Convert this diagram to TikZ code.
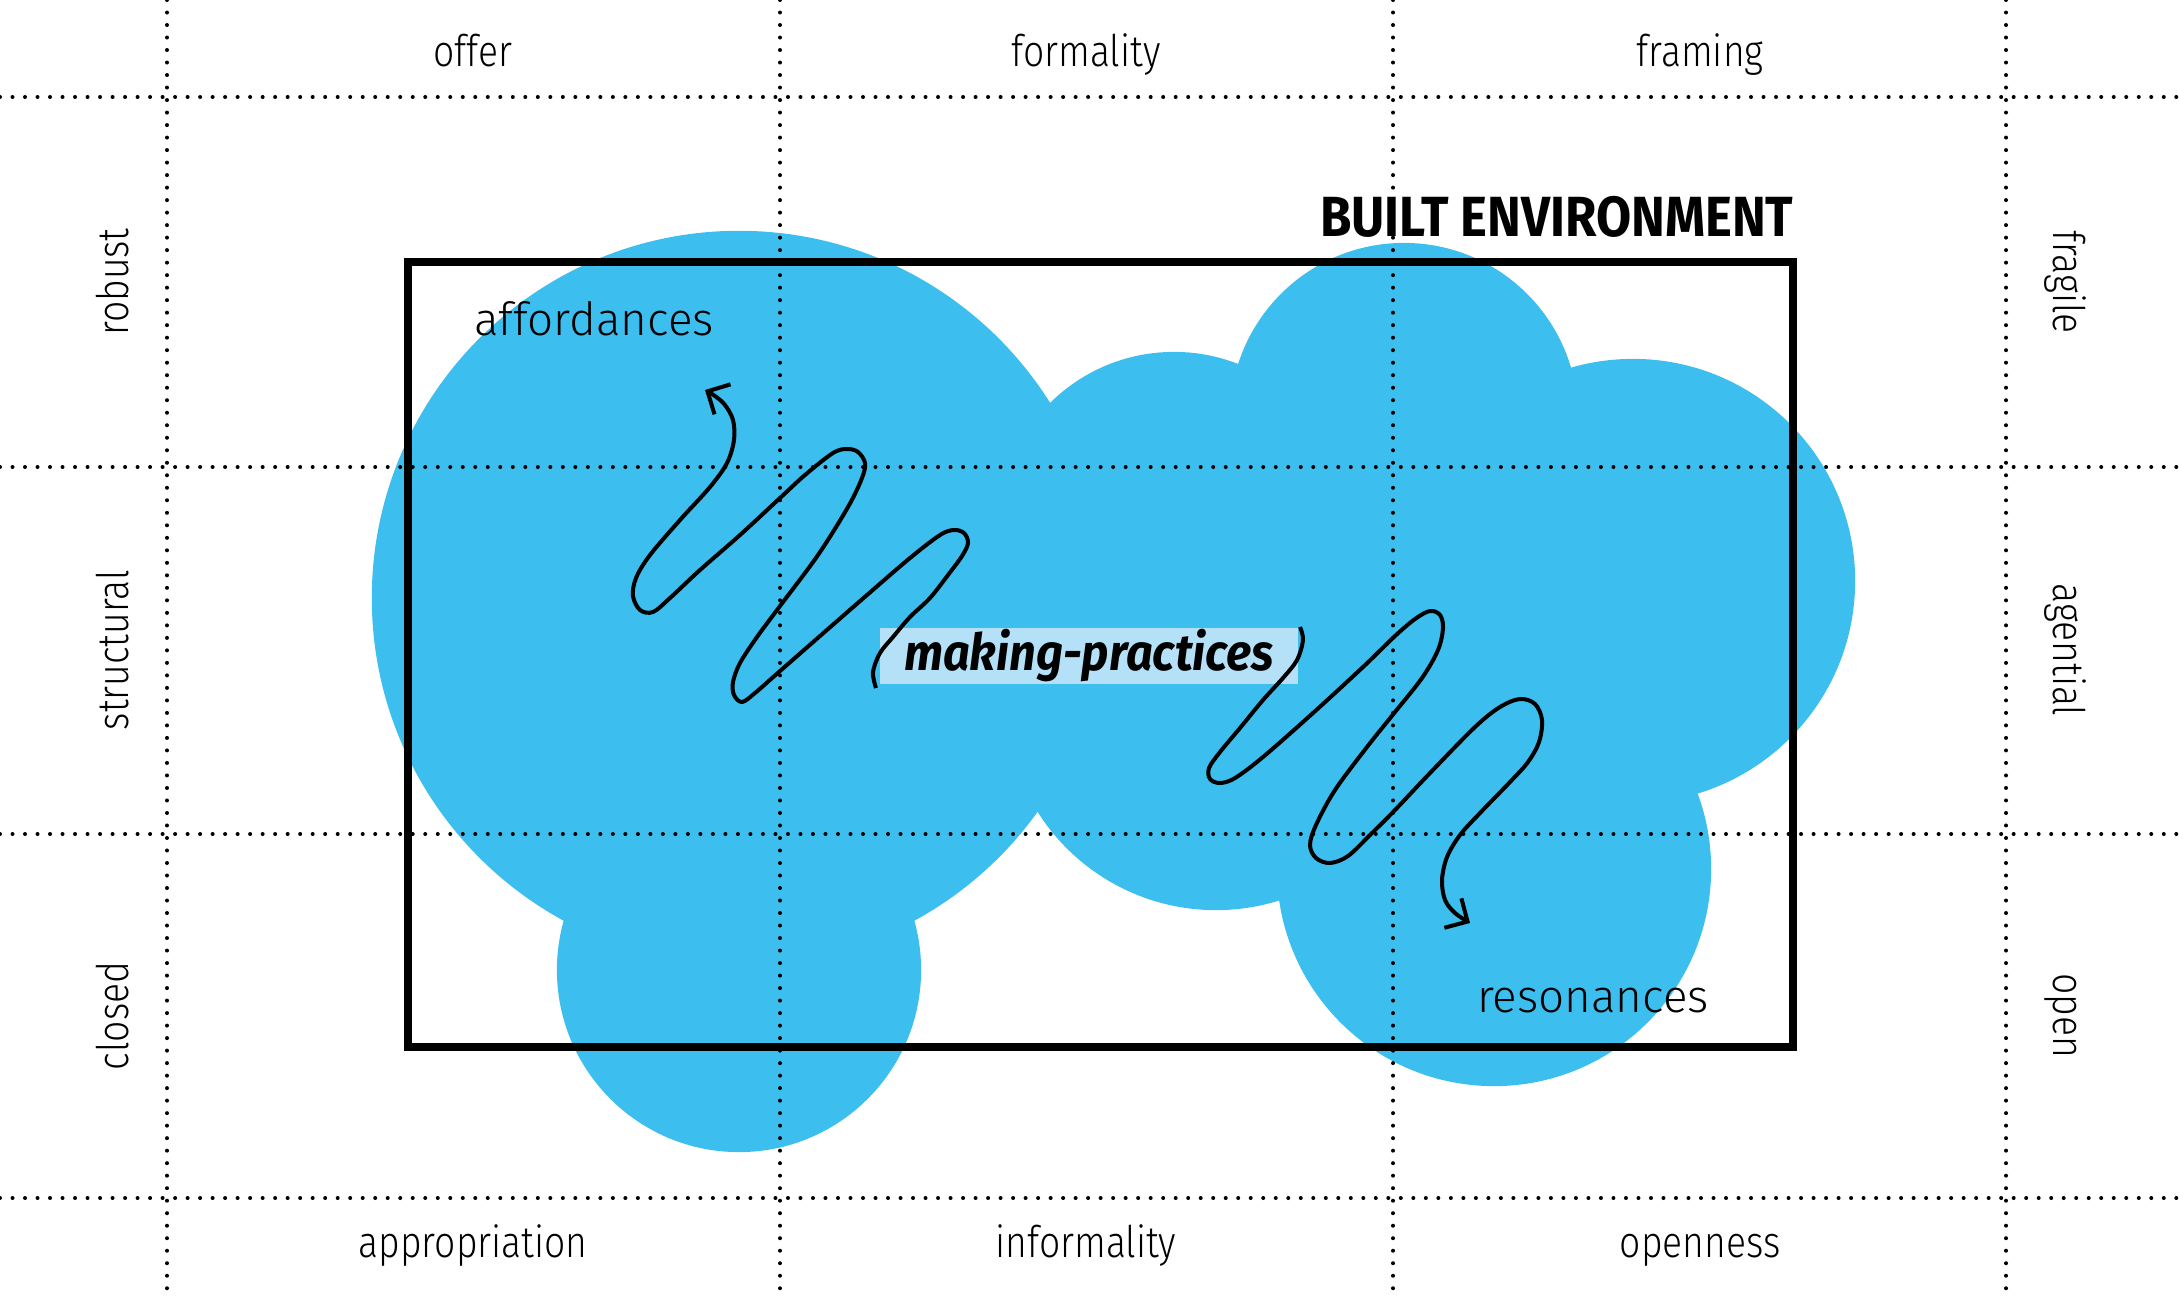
\documentclass[tikz,border=0pt]{standalone}
\usepackage{fontspec}
\usepackage{xcolor}
\usepackage{tikz}
\usetikzlibrary{arrows.meta}
\setmainfont{Fira Sans Light}[FakeStretch=0.855]
\newfontfamily\innerfont{Fira Sans Light}
\newfontfamily\headfont{Fira Sans Bold}[FakeStretch=0.9]
\newfontfamily\practfont{Fira Sans Bold Italic}[FakeStretch=0.92]
\definecolor{cloudblue}{RGB}{60,190,238}
\definecolor{glowblue}{RGB}{181,225,248}

\begin{document}
\begin{tikzpicture}[
    x=0.01cm, y=-0.01cm,
    blob/.style={fill=cloudblue},
    dots/.style={line width=0.04cm, line cap=round, dash pattern=on 0pt off 0.125cm},
    pole/.style={font=\fontsize{12.4}{14}\selectfont, anchor=base, inner sep=0pt},
    inside/.style={font=\innerfont\fontsize{13}{15}\selectfont, anchor=base, inner sep=0pt},
    frame/.style={draw=black, line width=0.08cm},
    arrow/.style={-{Straight Barb[length=1.7mm, width=3.4mm]}, line width=0.04cm, line join=round}
]
    \useasboundingbox (0,0) rectangle (2179,1300);

    \fill[blob] (739,598)  circle[radius=3.67cm];
    \fill[blob] (739,970)  circle[radius=1.82cm];
    \fill[blob] (1174,528) circle[radius=1.76cm];
    \fill[blob] (1216,699) circle[radius=2.11cm];
    \fill[blob] (1404,417) circle[radius=1.74cm];
    \fill[blob] (1633,581) circle[radius=2.22cm];
    \fill[blob] (1494,869) circle[radius=2.17cm];
    \fill[blob] (1330,560) circle[radius=1.50cm];

    \draw[dots] (0,97)   -- (2179,97);
    \draw[dots] (0,467)  -- (2179,467);
    \draw[dots] (0,834)  -- (2179,834);
    \draw[dots] (0,1198) -- (2179,1198);
    \draw[dots] (167,0)  -- (167,1300);
    \draw[dots] (780,0)  -- (780,1300);
    \draw[dots] (1393,0) -- (1393,1300);
    \draw[dots] (2006,0) -- (2006,1300);

    \draw[frame] (408,262) rectangle (1793,1047);

    \node[pole] (offer)  at (473,67)   {offer};
    \node[pole] (formal) at (1086,67)  {formality};
    \node[pole] (frame)  at (1700,67)  {framing};
    \node[pole] (approp) at (473,1257)  {appropriation};
    \node[pole] (inform) at (1086,1257) {informality};
    \node[pole] (openn)  at (1700,1257) {openness};
    \node[pole, rotate=90]  (robust) at (128,282)  {robust};
    \node[pole, rotate=90]  (struct) at (128,650)  {structural};
    \node[pole, rotate=90]  (closed) at (128,1016) {closed};
    \node[pole, rotate=-90] (fragil) at (2053,282)  {fragile};
    \node[pole, rotate=-90] (agent)  at (2053,650)  {agential};
    \node[pole, rotate=-90] (open)   at (2053,1016) {open};

    \node[anchor=base east, inner sep=0pt, font=\headfont\fontsize{16.1}{18}\selectfont] (built) at (1794,236) {BUILT ENVIRONMENT};
    \node[inside] (afford) at (594,335)  {affordances};
    \node[inside] (reson)  at (1593,1012) {resonances};
    \node[fill=glowblue, minimum width=4.18cm, minimum height=0.55cm, inner sep=0pt,
          font=\practfont\fontsize{14.5}{16}\selectfont] (making) at (1089,656) {making-practices};

    \coordinate (T1) at (876,688);
    \coordinate (H1) at (705,390);
    \coordinate (T2) at (1300,627);
    \coordinate (H2) at (1470,923);

    \draw[arrow] plot[smooth, tension=0.55] coordinates {(T1) (873,672) (880,653) (893,637) (910,617) (930,598) (948,575) (962,556) (968,543) (964,533) (954,530) (940,535) (910,558) (867,595) (820,636) (780,671) (755,693) (742,702) (734,695) (733,682) (740,663) (757,637) (780,606) (818,555) (848,507) (862,478) (865,463) (858,452) (847,449) (833,453) (805,475) (780,498) (740,535) (700,570) (670,598) (653,612) (640,610) (633,596) (636,578) (650,555) (680,520) (710,487) (727,463) (734,440) (733,420) (725,405) (715,396) (H1)};
    \draw[arrow] plot[smooth, tension=0.55] coordinates {(T2) (1303,640) (1297,660) (1283,678) (1263,700) (1240,728) (1220,752) (1209,768) (1210,779) (1220,783) (1235,778) (1263,757) (1313,713) (1363,667) (1395,636) (1415,619) (1430,611) (1440,615) (1443,628) (1438,650) (1422,678) (1395,712) (1367,747) (1335,790) (1316,825) (1310,845) (1316,858) (1330,863) (1348,856) (1370,835) (1395,810) (1430,773) (1475,727) (1500,707) (1520,699) (1535,704) (1542,720) (1539,742) (1528,762) (1510,782) (1480,813) (1460,835) (1447,857) (1442,880) (1445,900) (1455,913) (H2)};
\end{tikzpicture}
\end{document}
